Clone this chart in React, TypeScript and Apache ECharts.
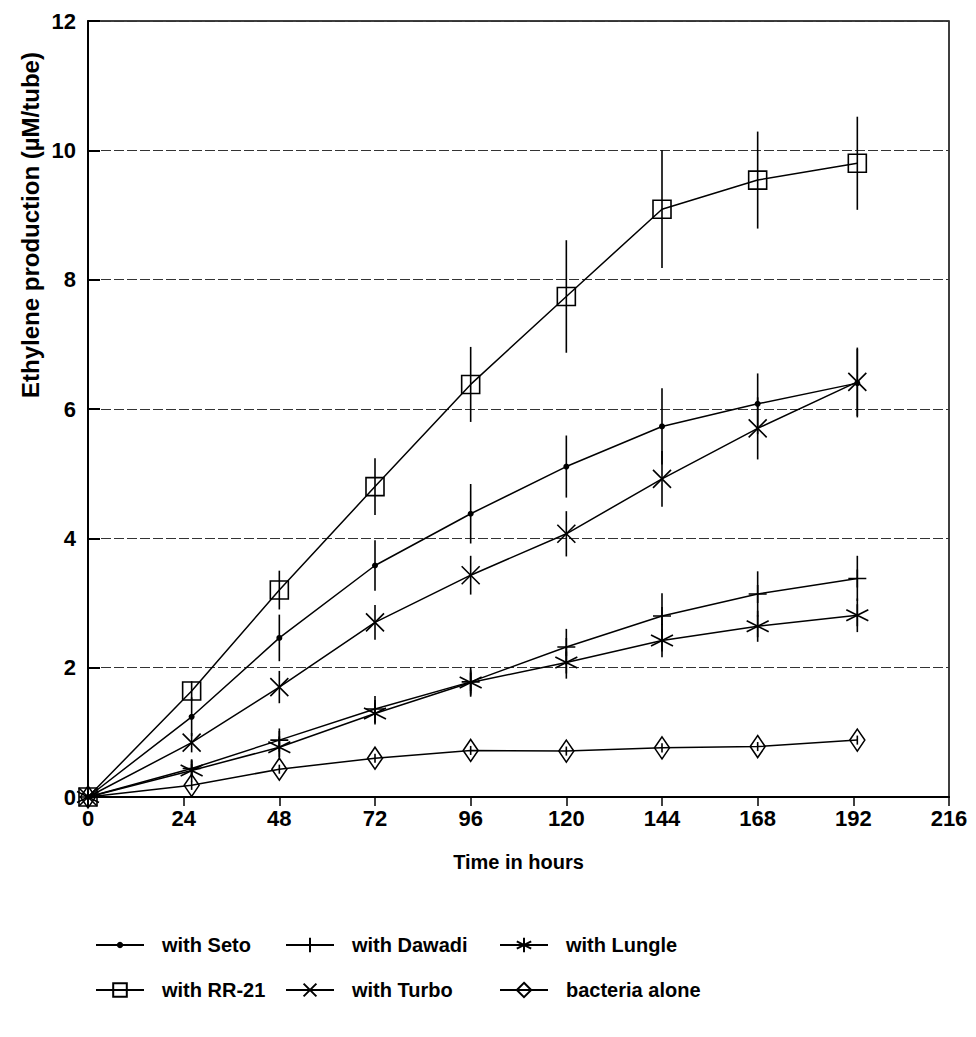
import React, { useEffect, useRef } from "react";
import * as echarts from "echarts";

const hours = [0, 26, 48, 72, 96, 120, 144, 168, 193];
const xTicks = [0, 24, 48, 72, 96, 120, 144, 168, 192, 216];
const yTicks = [0, 2, 4, 6, 8, 10, 12];

const seto = [0, 1.24, 2.46, 3.58, 4.38, 5.11, 5.73, 6.08, 6.4];
const setoErr = [0, 0.3, 0.36, 0.39, 0.46, 0.48, 0.59, 0.47, 0.53];
const rr21 = [0, 1.64, 3.2, 4.8, 6.38, 7.74, 9.09, 9.54, 9.8];
const rr21Err = [0, 0.15, 0.3, 0.44, 0.58, 0.87, 0.91, 0.75, 0.72];
const dawadi = [0, 0.44, 0.88, 1.36, 1.78, 2.32, 2.8, 3.14, 3.38];
const dawadiErr = [0, 0.12, 0.18, 0.2, 0.23, 0.28, 0.35, 0.35, 0.35];
const turbo = [0, 0.84, 1.7, 2.7, 3.43, 4.07, 4.92, 5.7, 6.42];
const turboErr = [0, 0.15, 0.25, 0.27, 0.3, 0.35, 0.43, 0.48, 0.53];
const lungle = [0, 0.41, 0.77, 1.29, 1.77, 2.08, 2.42, 2.64, 2.81];
const lungleErr = [0, 0.1, 0.15, 0.15, 0.2, 0.25, 0.26, 0.24, 0.26];
const bacteria = [0, 0.18, 0.43, 0.6, 0.72, 0.71, 0.76, 0.78, 0.88];
const bacteriaErr = [0, 0.07, 0.07, 0.07, 0.07, 0.07, 0.07, 0.07, 0.07];

const FONT = "'Liberation Sans', Arial, Helvetica, sans-serif";

const PLUS = "path://M0,5L10,5M5,0L5,10";
const CROSS = "path://M0,0L10,10M10,0L0,10";
const STAR = "path://M5,0L5,10M0.7,2.5L9.3,7.5M0.7,7.5L9.3,2.5";

type Spec = {
  name: string;
  vals: number[];
  err: number[];
  symbol: string;
  size: number | number[];
  filled: boolean;
  legendLeft: number;
  legendRow: number;
  legendIconH: number;
};

const specs: Spec[] = [
  { name: "with Seto", vals: seto, err: setoErr, symbol: "circle", size: 6, filled: true, legendLeft: 90, legendRow: 0, legendIconH: 8 },
  { name: "with RR-21", vals: rr21, err: rr21Err, symbol: "rect", size: 18, filled: false, legendLeft: 90, legendRow: 1, legendIconH: 17 },
  { name: "with Dawadi", vals: dawadi, err: dawadiErr, symbol: PLUS, size: 18, filled: false, legendLeft: 280, legendRow: 0, legendIconH: 18 },
  { name: "with Turbo", vals: turbo, err: turboErr, symbol: CROSS, size: 18, filled: false, legendLeft: 280, legendRow: 1, legendIconH: 16 },
  { name: "with Lungle", vals: lungle, err: lungleErr, symbol: STAR, size: 22, filled: false, legendLeft: 494, legendRow: 0, legendIconH: 18 },
  { name: "bacteria alone", vals: bacteria, err: bacteriaErr, symbol: "diamond", size: [15, 22], filled: false, legendLeft: 494, legendRow: 1, legendIconH: 18 },
];

export default function App() {
  const ref = useRef<HTMLDivElement>(null);
  useEffect(() => {
    if (!ref.current) return;
    const chart = echarts.init(ref.current, null, { renderer: "svg" });

    const lineSeries = specs.map((s) => ({
      name: s.name,
      type: "line",
      data: hours.map((h, i) => [h, s.vals[i]]),
      symbol: s.symbol,
      symbolSize: s.size,
      showSymbol: true,
      z: 3,
      lineStyle: { color: "#000", width: 1.5 },
      itemStyle: {
        color: s.filled ? "#000" : "rgba(255,255,255,0)",
        borderColor: "#000",
        borderWidth: s.filled ? 0 : 1.6,
      },
      emphasis: { disabled: true },
    }));

    const errData: number[][] = [];
    specs.forEach((s) => {
      hours.forEach((h, i) => {
        if (s.err[i] > 0) errData.push([h, s.vals[i] - s.err[i], s.vals[i] + s.err[i]]);
      });
    });

    const errSeries = {
      type: "custom",
      name: "err",
      z: 4,
      data: errData,
      renderItem: (params: any, api: any) => {
        const x = api.value(0);
        const p1 = api.coord([x, api.value(1)]);
        const p2 = api.coord([x, api.value(2)]);
        return {
          type: "line",
          shape: { x1: p1[0], y1: p1[1], x2: p2[0], y2: p2[1] },
          style: { stroke: "#000", lineWidth: 1.6 },
        };
      },
    };

    const rowCenters = [942, 987];
    const legends = specs.map((s) => ({
      orient: "horizontal",
      left: s.legendLeft,
      top: rowCenters[s.legendRow] - 12,
      height: 24,
      itemWidth: 48,
      itemHeight: s.legendIconH,
      selectedMode: false,
      data: [s.name],
      textStyle: {
        fontFamily: FONT,
        fontWeight: "bold",
        fontSize: 20,
        color: "#000",
        padding: [0, 0, 0, 13],
      },
    }));

    chart.setOption({
      animation: false,
      backgroundColor: "#fff",
      grid: {
        left: 88,
        right: 27,
        top: 21,
        bottom: 240,
        show: true,
        borderColor: "#000",
        borderWidth: 1.5,
      },
      xAxis: {
        type: "value",
        min: xTicks[0],
        max: xTicks[xTicks.length - 1],
        interval: 24,
        axisLine: { lineStyle: { color: "#000", width: 2 } },
        axisTick: { show: true, inside: false, length: 9, lineStyle: { color: "#000", width: 1.5 } },
        axisLabel: { fontFamily: FONT, fontWeight: "bold", fontSize: 22, color: "#000", margin: 10 },
        splitLine: { show: false },
        name: "Time in hours",
        nameLocation: "middle",
        nameGap: 55,
        nameTextStyle: { fontFamily: FONT, fontWeight: "bold", fontSize: 20, color: "#000" },
      },
      yAxis: {
        type: "value",
        min: yTicks[0],
        max: yTicks[yTicks.length - 1],
        interval: 2,
        axisLine: { show: true, lineStyle: { color: "#000", width: 2 } },
        axisTick: { show: true, inside: true, length: 12, lineStyle: { color: "#000", width: 2 } },
        axisLabel: { fontFamily: FONT, fontWeight: "bold", fontSize: 22, color: "#000", margin: 12 },
        splitLine: { show: true, lineStyle: { color: "#333", width: 1, type: [10, 3] } },
      },
      legend: legends,
      graphic: [
        {
          type: "text",
          x: 30,
          y: 225,
          rotation: Math.PI / 2,
          style: {
            text: "Ethylene production (µM/tube)",
            fontFamily: FONT,
            fontWeight: "bold",
            fontSize: 24,
            fill: "#000",
            align: "center",
            verticalAlign: "middle",
          },
        },
      ],
      series: [...lineSeries, errSeries],
    });
    return () => chart.dispose();
  }, []);
  return (
    <div
      ref={ref}
      style={{ position: "fixed", left: 0, top: 0, width: 976, height: 1037, background: "#fff" }}
    />
  );
}
